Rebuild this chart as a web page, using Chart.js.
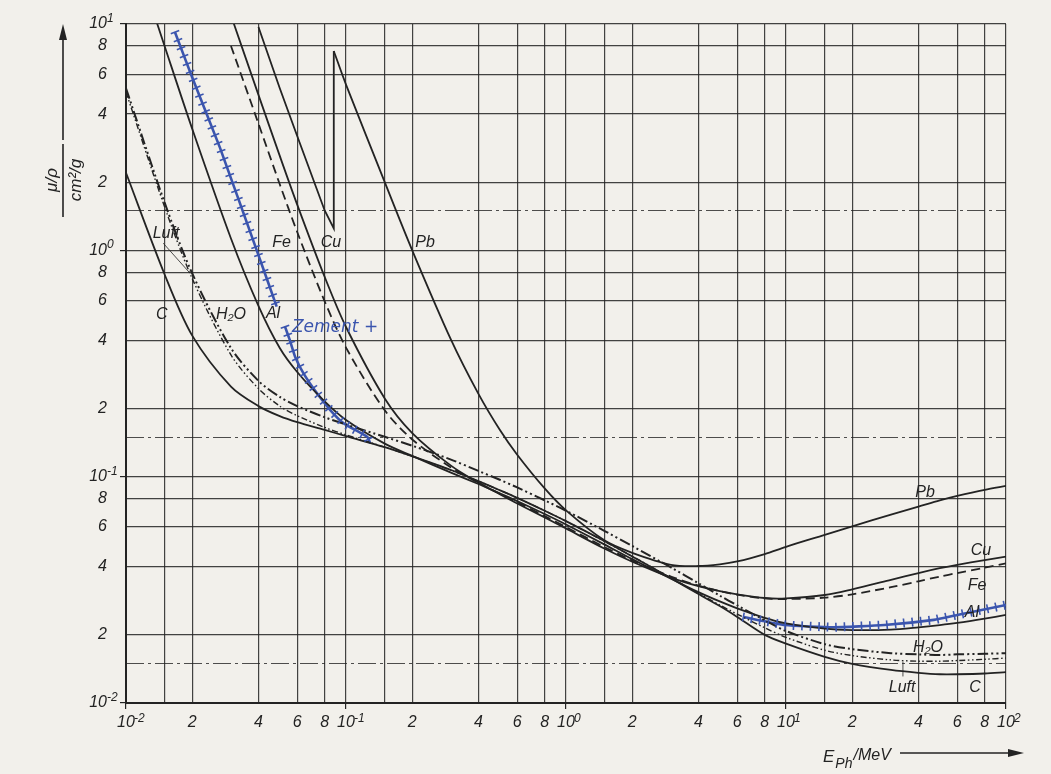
<!DOCTYPE html>
<html>
<head>
<meta charset="utf-8">
<title>Massenschwächungskoeffizient</title>
<script src="https://cdn.jsdelivr.net/npm/chart.js@4.4.1/dist/chart.umd.min.js"></script>
<style>
  html, body { margin: 0; padding: 0; background: #f2f0eb; }
  #chart { display: block; }
</style>
</head>
<body>
<canvas id="chart" width="1051" height="774"></canvas>
<script>
// photon energy in MeV, shared by most curves
var energy = [0.01, 0.015, 0.02, 0.03, 0.04, 0.05, 0.06, 0.08, 0.1, 0.15, 0.2, 0.3, 0.4, 0.5, 0.6, 0.8,
              1, 1.5, 2, 3, 4, 5, 6, 8, 10, 15, 20, 30, 40, 50, 60, 80, 100];

// mu/rho in cm2/g
var muC    = [2.2, 0.78, 0.42, 0.25, 0.205, 0.185, 0.174, 0.161, 0.151, 0.135, 0.123, 0.107, 0.0955, 0.0871, 0.0806, 0.0707,
              0.0636, 0.0518, 0.0444, 0.0356, 0.0303, 0.0268, 0.0240, 0.0200, 0.0183, 0.0160, 0.0149, 0.0140, 0.0136, 0.0134, 0.0134, 0.0135, 0.0137];
var muLuft = [5.0, 1.55, 0.75, 0.345, 0.245, 0.205, 0.186, 0.165, 0.153, 0.135, 0.123, 0.1067, 0.0955, 0.0871, 0.0806, 0.0707,
              0.0636, 0.0517, 0.0445, 0.0357, 0.0305, 0.0271, 0.0247, 0.0215, 0.0195, 0.0171, 0.0162, 0.0155, 0.0153, 0.0153, 0.0154, 0.0156, 0.0158];
var muH2O  = [5.2, 1.62, 0.79, 0.37, 0.265, 0.225, 0.205, 0.183, 0.170, 0.150, 0.137, 0.119, 0.106, 0.0969, 0.0896, 0.0786,
              0.0707, 0.0575, 0.0494, 0.0397, 0.0338, 0.0298, 0.0270, 0.0232, 0.0208, 0.0182, 0.0173, 0.0166, 0.0164, 0.0163, 0.0164, 0.0165, 0.0166];
var muAl   = [26.2, 7.955, 3.441, 1.128, 0.5685, 0.37, 0.29, 0.215, 0.178, 0.14, 0.1235, 0.1042, 0.0928, 0.0845, 0.078, 0.0684,
              0.0615, 0.0501, 0.0432, 0.0354, 0.0309, 0.0281, 0.0262, 0.0238, 0.0225, 0.0213, 0.0210, 0.0211, 0.0216, 0.0221, 0.0226, 0.0236, 0.0245];
var muFe   = [null, null, null, 8.0, 3.629, 1.958, 1.205, 0.5952, 0.3717, 0.1964, 0.146, 0.1099, 0.094, 0.0841, 0.077, 0.067,
              0.0599, 0.0488, 0.0426, 0.0362, 0.0330, 0.0312, 0.0301, 0.0290, 0.0288, 0.0292, 0.0302, 0.0325, 0.0345, 0.0362, 0.0375, 0.0396, 0.0414];
var muCu   = [null, null, 33.79, 10.92, 4.862, 2.613, 1.593, 0.763, 0.4584, 0.2217, 0.1559, 0.1119, 0.0941, 0.0836, 0.0761, 0.0661,
              0.059, 0.048, 0.0421, 0.0358, 0.0328, 0.0312, 0.0302, 0.0291, 0.0290, 0.0300, 0.0318, 0.0350, 0.0375, 0.0394, 0.0408, 0.0428, 0.0443];

// lead has its own grid because of the K edge at 88 keV
var energyPb = [0.04, 0.05, 0.06, 0.08, 0.088, 0.088, 0.1, 0.15, 0.2, 0.3, 0.4, 0.5, 0.6, 0.8,
                1, 1.5, 2, 3, 4, 5, 6, 8, 10, 15, 20, 30, 40, 50, 60, 80, 100];
var muPb     = [9.7, 5.2, 3.2, 1.5, 1.25, 7.6, 5.4, 2.0, 1.0, 0.403, 0.232, 0.161, 0.125, 0.0887,
                0.0710, 0.0522, 0.0461, 0.0408, 0.0403, 0.0410, 0.0422, 0.0455, 0.0490, 0.0553, 0.0603, 0.0680, 0.0737, 0.0785, 0.0822, 0.0875, 0.0910];
var pbEdge = 5; // index of the value just above the K edge

// hand drawn concrete curve (blue), with gaps where it was not drawn
var energyZement = [0.0167, 0.02, 0.0267, 0.0393, 0.0484, 0.05, 0.0528, 0.0556, 0.0587, 0.0641, 0.0737, 0.0848, 0.0976, 0.1248, 0.129,
                    0.13, 6.4, 9.9, 16.4, 28, 47, 60, 100];
var muZement     = [9.2, 5.8, 2.85, 1.0, 0.564, null, 0.46, 0.40, 0.339, 0.286, 0.234, 0.197, 0.172, 0.150, 0.1405,
                    null, 0.024, 0.0221, 0.0216, 0.0221, 0.0233, 0.0245, 0.0271];

// grid / tick values (1, 1.5, 2, 4, 6, 8 per decade)
var xTicks = [0.01, 0.015, 0.02, 0.04, 0.06, 0.08, 0.1, 0.15, 0.2, 0.4, 0.6, 0.8, 1, 1.5, 2, 4, 6, 8,
              10, 15, 20, 40, 60, 80, 100];
var yTicks = [0.01, 0.015, 0.02, 0.04, 0.06, 0.08, 0.1, 0.15, 0.2, 0.4, 0.6, 0.8, 1, 1.5, 2, 4, 6, 8, 10];

var ink = '#232323';
var zementColor = '#3b55ae';
var fontFamily = '"Liberation Sans", "DejaVu Sans", sans-serif';
var labelFont = 'italic 16px ' + fontFamily;

// curve labels placed in data coordinates
var curveLabels = [
    { text: 'Luft', e: 0.0152, mu: 1.19 },
    { text: 'C', e: 0.01453, mu: 0.518 },
    { text: 'H₂O', e: 0.030, mu: 0.52 },
    { text: 'Al', e: 0.0466, mu: 0.524 },
    { text: 'Fe', e: 0.0509, mu: 1.078 },
    { text: 'Cu', e: 0.0855, mu: 1.078 },
    { text: 'Pb', e: 0.2286, mu: 1.078 },
    { text: 'Pb', e: 42.9, mu: 0.0847 },
    { text: 'Cu', e: 76.9, mu: 0.047 },
    { text: 'Fe', e: 73.8, mu: 0.0332 },
    { text: 'Al', e: 70, mu: 0.0252 },
    { text: 'H₂O', e: 44.2, mu: 0.0175 },
    { text: 'Luft', e: 33.7, mu: 0.01165 },
    { text: 'C', e: 72.3, mu: 0.01165 }
];
var leaders = [
    [0.01477, 1.075, 0.01955, 0.792],
    [34, 0.0152, 34, 0.0131]
];

function pairs(xs, ys) {
    return xs.map(function(x, i) { return { x: x, y: ys[i] }; });
}

function mantissa(value) {
    var exp = Math.floor(Math.log10(value) + 1e-9);
    return { exp: exp, m: Math.round(value / Math.pow(10, exp) * 10) / 10 };
}

function tickLabel(value) {
    var t = mantissa(value);
    if (t.m === 1) return '10'; // exponent is added by the plugin
    if (t.m === 1.5) return '';
    return String(t.m);
}

function drawHatch(chart, index) {
    var pts = chart.getDatasetMeta(index).data;
    var ctx = chart.ctx, area = chart.chartArea;
    var step = 8.5, half = 4.5, carry = 0;
    ctx.save();
    ctx.beginPath();
    ctx.rect(area.left, area.top, area.right - area.left, area.bottom - area.top);
    ctx.clip();
    ctx.strokeStyle = zementColor;
    ctx.lineWidth = 1.6;
    for (var i = 0; i < pts.length - 1; i++) {
        var a = pts[i], b = pts[i + 1];
        if (a.skip || b.skip) { carry = 0; continue; }
        var dx = b.x - a.x, dy = b.y - a.y, len = Math.hypot(dx, dy);
        if (len === 0) continue;
        var nx = -dy / len, ny = dx / len;
        var d = carry;
        for (; d < len; d += step) {
            var px = a.x + dx * d / len, py = a.y + dy * d / len;
            ctx.beginPath();
            ctx.moveTo(px - nx * half, py - ny * half);
            ctx.lineTo(px + nx * half, py + ny * half);
            ctx.stroke();
        }
        carry = d - len;
    }
    ctx.restore();
}

function arrowHead(ctx, x, y, dir) {
    // dir: 'up' or 'right'
    ctx.beginPath();
    if (dir === 'up') {
        ctx.moveTo(x, y); ctx.lineTo(x - 4, y + 16); ctx.lineTo(x + 4, y + 16);
    } else {
        ctx.moveTo(x, y); ctx.lineTo(x - 16, y - 4); ctx.lineTo(x - 16, y + 4);
    }
    ctx.closePath();
    ctx.fill();
}

function drawExponents(chart) {
    var ctx = chart.ctx, xs = chart.scales.x, ys = chart.scales.y, area = chart.chartArea;
    ctx.save();
    ctx.fillStyle = ink;
    ctx.font = 'italic 16px ' + fontFamily;
    var w = ctx.measureText('10').width;
    ctx.font = 'italic 12px ' + fontFamily;
    ctx.textBaseline = 'alphabetic';
    ctx.textAlign = 'left';
    xTicks.forEach(function(v) {
        var t = mantissa(v);
        if (t.m !== 1) return;
        ctx.fillText(String(t.exp), xs.getPixelForValue(v) + w / 2 - 1, area.bottom + 19);
    });
    yTicks.forEach(function(v) {
        var t = mantissa(v);
        if (t.m !== 1) return;
        ctx.fillText(String(t.exp), area.left - 19, ys.getPixelForValue(v) - 2);
    });
    ctx.restore();
}

var decorPlugin = {
    id: 'decor',
    beforeDatasetsDraw: function(chart) {
        // the 1.5 lines are drawn dashed on the paper
        var ctx = chart.ctx, area = chart.chartArea, y = chart.scales.y;
        ctx.save();
        ctx.strokeStyle = 'rgba(35,35,35,0.8)';
        ctx.lineWidth = 1.1;
        ctx.setLineDash([18, 4, 3, 4]);
        yTicks.forEach(function(v) {
            if (mantissa(v).m !== 1.5) return;
            var py = Math.round(y.getPixelForValue(v)) + 0.5;
            ctx.beginPath();
            ctx.moveTo(area.left, py);
            ctx.lineTo(area.right, py);
            ctx.stroke();
        });
        ctx.restore();
    },
    afterDatasetsDraw: function(chart) {
        drawHatch(chart, chart.data.datasets.length - 1);
    },
    afterDraw: function(chart) {
        var ctx = chart.ctx, xs = chart.scales.x, ys = chart.scales.y;
        drawExponents(chart);
        ctx.save();
        ctx.fillStyle = ink;
        ctx.strokeStyle = ink;
        ctx.font = labelFont;
        ctx.textAlign = 'center';
        ctx.textBaseline = 'middle';
        curveLabels.forEach(function(l) {
            ctx.fillText(l.text, xs.getPixelForValue(l.e), ys.getPixelForValue(l.mu));
        });
        ctx.lineWidth = 0.8;
        leaders.forEach(function(l) {
            ctx.beginPath();
            ctx.moveTo(xs.getPixelForValue(l[0]), ys.getPixelForValue(l[1]));
            ctx.lineTo(xs.getPixelForValue(l[2]), ys.getPixelForValue(l[3]));
            ctx.stroke();
        });

        // handwritten concrete label
        ctx.fillStyle = zementColor;
        ctx.font = 'italic 17px "DejaVu Sans", sans-serif';
        ctx.textAlign = 'left';
        ctx.fillText('Zement +', xs.getPixelForValue(0.0568), ys.getPixelForValue(0.454));

        // y axis title: mu/rho over cm2/g, rotated, with arrow
        ctx.fillStyle = ink;
        ctx.font = 'italic 17px ' + fontFamily;
        ctx.textAlign = 'center';
        ctx.save();
        ctx.translate(52, 180);
        ctx.rotate(-Math.PI / 2);
        ctx.fillText('μ/ρ', 0, 0);
        ctx.restore();
        ctx.save();
        ctx.translate(76, 180);
        ctx.rotate(-Math.PI / 2);
        ctx.fillText('cm²/g', 0, 0);
        ctx.restore();
        ctx.lineWidth = 1.6;
        ctx.beginPath();
        ctx.moveTo(63, 144); ctx.lineTo(63, 217);
        ctx.moveTo(63, 140); ctx.lineTo(63, 36);
        ctx.stroke();
        arrowHead(ctx, 63, 24, 'up');

        // x axis title with arrow
        ctx.textAlign = 'left';
        ctx.textBaseline = 'alphabetic';
        ctx.font = 'italic 17px ' + fontFamily;
        ctx.fillText('E', 823, 762);
        var w = ctx.measureText('E').width;
        ctx.font = 'italic 14px ' + fontFamily;
        ctx.fillText('Ph', 823 + w + 1, 768);
        var w2 = ctx.measureText('Ph').width;
        ctx.font = 'italic 16px ' + fontFamily;
        ctx.fillText('/MeV', 823 + w + w2 + 2, 760);
        ctx.beginPath();
        ctx.moveTo(900, 753); ctx.lineTo(1012, 753);
        ctx.stroke();
        arrowHead(ctx, 1024, 753, 'right');
        ctx.restore();
    }
};

function curve(label, xs, ys, width, dash, extra) {
    var ds = {
        label: label,
        data: pairs(xs, ys),
        borderColor: ink,
        borderWidth: width,
        borderDash: dash,
        pointRadius: 0,
        fill: false,
        spanGaps: false,
        tension: 0.3
    };
    for (var k in extra) ds[k] = extra[k];
    return ds;
}

function axisOptions(ticks, isX) {
    return {
        type: 'logarithmic',
        min: ticks[0],
        max: ticks[ticks.length - 1],
        afterBuildTicks: function(scale) {
            scale.ticks = ticks.map(function(v) { return { value: v }; });
        },
        afterFit: function(scale) {
            if (isX) scale.height = 71; else scale.width = 126;
            scale.paddingLeft = 0; scale.paddingRight = 0;
            scale.paddingTop = 0; scale.paddingBottom = 0;
        },
        ticks: {
            autoSkip: false,
            maxRotation: 0,
            padding: isX ? 4 : 13,
            color: ink,
            font: { family: fontFamily, size: 16, style: 'italic' },
            callback: function(value) { return tickLabel(value); }
        },
        grid: {
            lineWidth: 1.2,
            color: function(c) {
                if (!isX && c.tick && mantissa(c.tick.value).m === 1.5) return 'rgba(0,0,0,0)';
                return 'rgba(35,35,35,0.85)';
            },
            tickLength: 6,
            tickColor: function(c) {
                return c.tick && mantissa(c.tick.value).m === 1 ? ink : 'rgba(0,0,0,0)';
            }
        },
        border: { color: ink, width: 2 }
    };
}

var ctx = document.getElementById('chart').getContext('2d');
new Chart(ctx, {
    type: 'line',
    data: {
        datasets: [
            curve('C', energy, muC, 1.8, []),
            curve('Luft', energy, muLuft, 1.4, [6, 2.5, 1.5, 2.5, 1.5, 2.5]),
            curve('H2O', energy, muH2O, 2, [11, 3, 2, 3, 2, 3]),
            curve('Al', energy, muAl, 1.8, []),
            curve('Fe', energy, muFe, 1.8, [9, 5]),
            curve('Cu', energy, muCu, 1.8, []),
            // lead below the K edge plus the jump, then the smooth part above it
            curve('Pb', energyPb.slice(0, pbEdge + 1), muPb.slice(0, pbEdge + 1), 1.8, [], { tension: 0 }),
            curve('Pb', energyPb.slice(pbEdge), muPb.slice(pbEdge), 1.8, []),
            curve('Zement', energyZement, muZement, 2.6, [], { borderColor: zementColor, tension: 0.15 })
        ]
    },
    options: {
        responsive: false,
        animation: false,
        layout: { padding: { top: 24, right: 45, left: 0, bottom: 0 } },
        plugins: { legend: { display: false }, tooltip: { enabled: false } },
        scales: {
            x: axisOptions(xTicks, true),
            y: axisOptions(yTicks, false)
        }
    },
    plugins: [decorPlugin]
});
</script>
</body>
</html>
